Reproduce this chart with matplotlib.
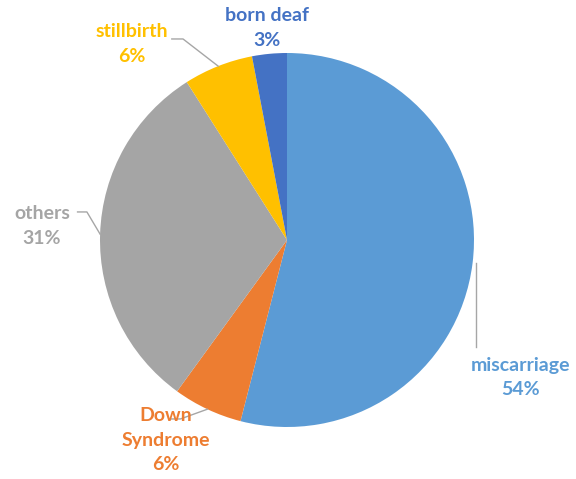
import numpy as np
import matplotlib.pyplot as plt

# Data
categories = ['miscarriage', 'Down\nSyndrome', 'others', 'stillbirth', 'born deaf']
shares = [54, 6, 31, 6, 3]
colours = ['#5B9BD5', '#ED7D31', '#A5A5A5', '#FFC000', '#4472C4']

# label placement (data coords, pie radius = 1) and elbow of leader line
label_pos = [(1.25, -0.735), (-0.65, -1.07), (-1.31, 0.075), (-0.83, 1.048), (-0.105, 1.134)]
elbow_pos = [(1.01, -0.57), (-0.57, -0.957), (-1.07, 0.15), (-0.556, 1.075), None]
tail = [0, -0.05, -0.05, -0.06, 0]

fig = plt.figure(figsize=(5.76, 4.79), dpi=100)
W, H = 576, 479
cx, cy, r = 287, 240, 187
ax = fig.add_axes([(cx - r) / W, (H - cy - r) / H, 2 * r / W, 2 * r / H])

wedges, _ = ax.pie(shares, colors=colours, startangle=90, counterclock=False,
                   radius=1, wedgeprops=dict(linewidth=0))
ax.set_xlim(-1, 1)
ax.set_ylim(-1, 1)
ax.set_aspect('equal')
ax.axis('off')

for w, cat, val, col, lp, ep, t in zip(wedges, categories, shares, colours,
                                       label_pos, elbow_pos, tail):
    ax.text(lp[0], lp[1], f'{cat}\n{val}%', color=col, ha='center', va='center',
            fontsize=14, fontweight='bold', family='Lato', linespacing=1.55,
            clip_on=False)
    if ep is None:
        continue
    mid = np.deg2rad((w.theta1 + w.theta2) / 2)
    sx, sy = np.cos(mid), np.sin(mid)
    if cat == 'miscarriage':
        xs = [ep[0], ep[0]]
        ys = [sy, -0.57]
    else:
        xs = [sx, ep[0], ep[0] + t]
        ys = [sy, ep[1], ep[1]]
    ax.plot(xs, ys, color='#A6A6A6', lw=1, clip_on=False)

fig.savefig('out.png', dpi=100)
